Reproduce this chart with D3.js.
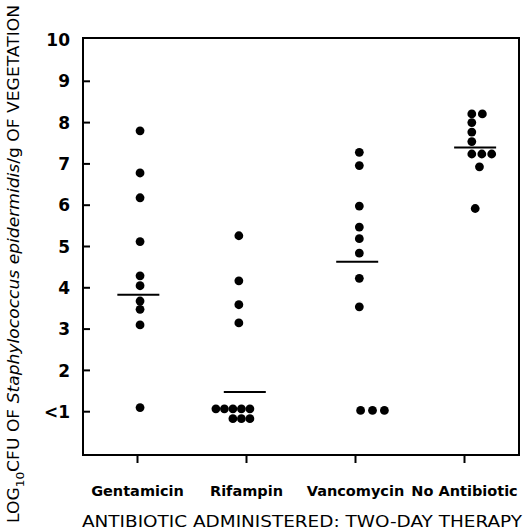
<!DOCTYPE html>
<html>
<head>
<meta charset="utf-8">
<script src="https://cdn.jsdelivr.net/npm/d3@7"></script>
<style>
    body { margin: 0; background: #fff; }
    svg { display: block; }
    text { font-family: "DejaVu Sans", sans-serif; fill: #000; }
</style>
</head>
<body>
<div id="chart"></div>
<script>
// Groups along the x axis
const categories = ['Gentamicin', 'Rifampin', 'Vancomycin', 'No Antibiotic'];

// log10 CFU per group (values below 1 are plotted in the "<1" row)
const gentamicinValues = [7.8, 6.78, 6.18, 5.12, 4.29, 4.05, 3.68, 3.48, 3.1, 1.1];
const rifampinValues = [5.26, 4.17, 3.59, 3.15, 1.07, 1.07, 1.07, 1.07, 1.07, 0.83, 0.83, 0.83];
const vancomycinValues = [7.28, 6.96, 5.98, 5.47, 5.19, 4.84, 4.23, 3.54, 1.03, 1.03, 1.03];
const noAntibioticValues = [8.21, 8.21, 8.0, 7.77, 7.54, 7.24, 7.24, 7.24, 6.93, 5.92];

// side-by-side slot of each dot (in dot widths) where points overlap
const gentamicinSlots = [0.3, 0.3, 0.3, 0.3, 0.3, 0.3, 0.3, 0.3, 0.3, 0.3];
const rifampinSlots = [-0.9, -0.9, -0.9, -0.9, -3.6, -2.6, -1.6, -0.6, 0.4, -1.6, -0.6, 0.4];
const vancomycinSlots = [0.45, 0.45, 0.45, 0.45, 0.45, 0.45, 0.45, 0.45, 0.6, 2.0, 3.4];
const noAntibioticSlots = [0.86, 2.1, 0.86, 0.86, 0.86, 0.86, 2.04, 3.2, 1.76, 1.26];

// horizontal bar per group
const barValues = [3.83, 1.48, 4.63, 7.4];
const barSlots = [0.1, -0.2, 0.2, 1.25];

// y axis ticks
const yTickValues = [1, 2, 3, 4, 5, 6, 7, 8, 9, 10];
const yTickLabels = ['<1', '2', '3', '4', '5', '6', '7', '8', '9', '10'];

const groups = [
    { values: gentamicinValues, slots: gentamicinSlots },
    { values: rifampinValues, slots: rifampinSlots },
    { values: vancomycinValues, slots: vancomycinSlots },
    { values: noAntibioticValues, slots: noAntibioticSlots }
];

const W = 527, H = 531;
const frame = { left: 83, right: 519, top: 38, bottom: 455 };

const svg = d3.select('#chart')
    .append('svg')
    .attr('width', W)
    .attr('height', H);

const x = d3.scalePoint()
    .domain(categories)
    .range([frame.left, frame.right])
    .padding(0.5);

const y = d3.scaleLinear()
    .domain([0, 10])
    .range([453, 40]);

// dot width in px
const slot = d3.scaleLinear().domain([0, 1]).range([0, 8.5]);

// Frame
svg.append('rect')
    .attr('x', frame.left)
    .attr('y', frame.top)
    .attr('width', frame.right - frame.left)
    .attr('height', frame.bottom - frame.top)
    .attr('fill', 'none')
    .attr('stroke', '#000')
    .attr('stroke-width', 2);

// Y axis ticks (inward) and labels
const yAxis = svg.append('g')
    .attr('transform', `translate(${frame.left},0)`);

yAxis.selectAll('line')
    .data(yTickValues.filter(v => v < 10))
    .enter()
    .append('line')
    .attr('x1', 0)
    .attr('x2', 7)
    .attr('y1', d => y(d))
    .attr('y2', d => y(d))
    .attr('stroke', '#000')
    .attr('stroke-width', 2);

yAxis.selectAll('text')
    .data(yTickValues)
    .enter()
    .append('text')
    .attr('x', -13)
    .attr('y', d => y(d))
    .attr('dy', '0.36em')
    .attr('text-anchor', 'end')
    .attr('font-size', 17)
    .attr('font-weight', 'bold')
    .text((d, i) => yTickLabels[i]);

// X axis ticks below the frame and category labels
const xAxis = svg.append('g')
    .attr('transform', `translate(0,${frame.bottom})`);

xAxis.selectAll('line')
    .data(categories)
    .enter()
    .append('line')
    .attr('x1', d => x(d))
    .attr('x2', d => x(d))
    .attr('y1', 0)
    .attr('y2', 8)
    .attr('stroke', '#000')
    .attr('stroke-width', 2);

xAxis.selectAll('text')
    .data(categories)
    .enter()
    .append('text')
    .attr('x', d => x(d))
    .attr('y', 41)
    .attr('text-anchor', 'middle')
    .attr('font-size', 14.5)
    .attr('font-weight', 'bold')
    .text(d => d);

// Dots
groups.forEach((g, gi) => {
    const cx = x(categories[gi]);
    svg.append('g')
        .selectAll('circle')
        .data(g.values)
        .enter()
        .append('circle')
        .attr('cx', (d, i) => cx + slot(g.slots[i]))
        .attr('cy', d => y(d))
        .attr('r', 4.4)
        .attr('fill', '#000');
});

// Group bars
svg.append('g')
    .selectAll('line')
    .data(barValues)
    .enter()
    .append('line')
    .attr('x1', (d, i) => x(categories[i]) + slot(barSlots[i]) - 21)
    .attr('x2', (d, i) => x(categories[i]) + slot(barSlots[i]) + 21)
    .attr('y1', d => y(d))
    .attr('y2', d => y(d))
    .attr('stroke', '#000')
    .attr('stroke-width', 2);

// X axis title
svg.append('text')
    .attr('x', 302)
    .attr('y', 527)
    .attr('text-anchor', 'middle')
    .attr('font-size', 16.5)
    .attr('textLength', 440)
    .attr('lengthAdjust', 'spacingAndGlyphs')
    .text('ANTIBIOTIC ADMINISTERED: TWO-DAY THERAPY');

// Y axis title
const yTitle = svg.append('text')
    .attr('transform', 'translate(19,523) rotate(-90)')
    .attr('font-size', 15.5)
    .attr('textLength', 518)
    .attr('lengthAdjust', 'spacingAndGlyphs');

yTitle.append('tspan').text('LOG');
yTitle.append('tspan').attr('dy', 5).attr('font-size', 11).text('10');
yTitle.append('tspan').attr('dy', -5).text('CFU OF ');
yTitle.append('tspan').attr('font-style', 'italic').text('Staphylococcus epidermidis');
yTitle.append('tspan').text('/g OF VEGETATION');
</script>
</body>
</html>
